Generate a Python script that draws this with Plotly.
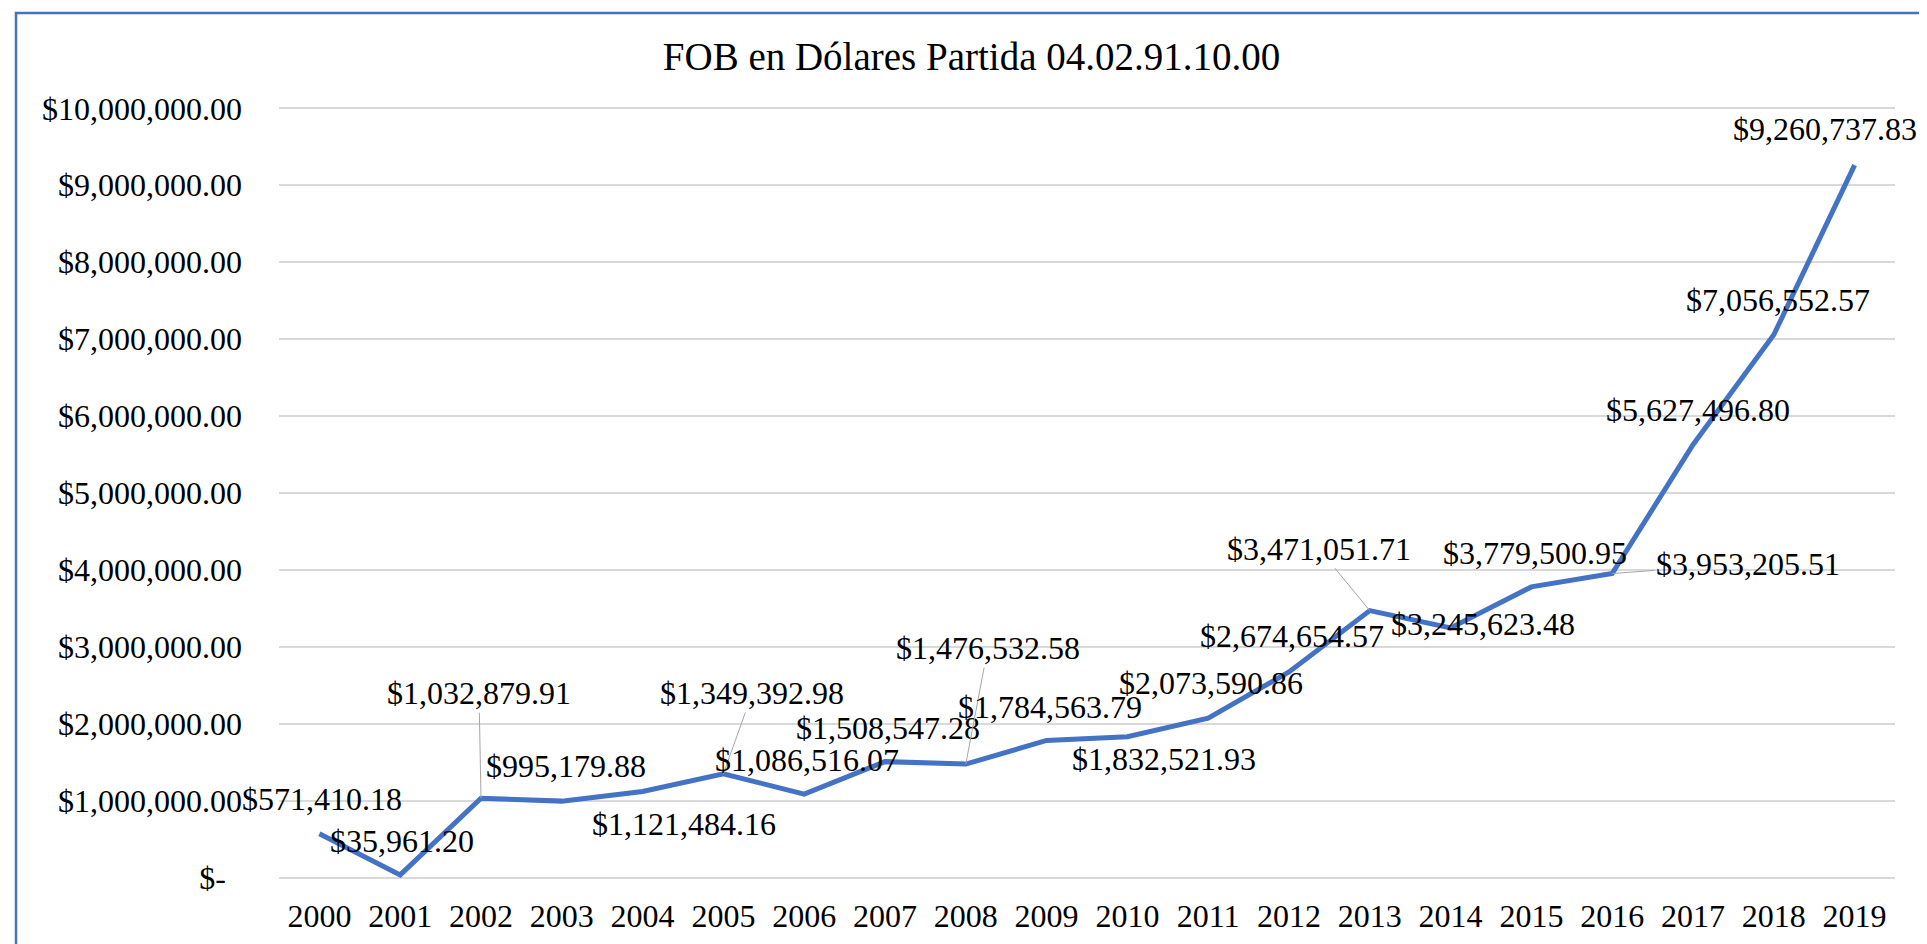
import plotly.graph_objects as go

years = [str(y) for y in range(2000, 2020)]
fob_usd = [571410.18, 35961.20, 1032879.91, 995179.88, 1121484.16, 1349392.98,
           1086516.07, 1508547.28, 1476532.58, 1784563.79, 1832521.93, 2073590.86,
           2674654.57, 3471051.71, 3245623.48, 3779500.95, 3953205.51, 5627496.80,
           7056552.57, 9260737.83]
y_ticks = [0, 1e6, 2e6, 3e6, 4e6, 5e6, 6e6, 7e6, 8e6, 9e6, 10e6]
title_text = "FOB en Dólares Partida 04.02.91.10.00"

# label placement (pixels): (dx, dy_up, leader)
label_pos = {
    "2000": (3, 35, False), "2001": (2, 34, False), "2002": (-2, 105, True),
    "2003": (4, 35, False), "2004": (41, -33, False), "2005": (29, 81, True),
    "2006": (3, 34, False), "2007": (3, 34, False), "2008": (22, 116, True),
    "2009": (3, 33, False), "2010": (37, -22, False), "2011": (3, 35, False),
    "2012": (3, 36, False), "2013": (-51, 62, True), "2014": (32, 4, False),
    "2015": (4, 34, False), "2016": (136, 10, True), "2017": (5, 35, False),
    "2018": (4, 35, False), "2019": (-30, 36, False),
}

FONT = "Liberation Serif, Times New Roman, serif"
W, H = 1927, 944
ML, MR, MT, MB = 271, W - 1887, 98, 72
Y_PAD = 0.03e6

def money(v):
    return "$-\u00a0\u00a0" if v == 0 else f"${v:,.2f}"

fig = go.Figure()
fig.add_trace(go.Scatter(x=years, y=fob_usd, mode="lines",
                         line=dict(color="#4472C4", width=5), hoverinfo="skip"))

annotations = []
for i, (yr, v) in enumerate(zip(years, fob_usd)):
    dx, dy, leader = label_pos[yr]
    txt = f"${v:,.2f}"
    common = dict(x=i, y=v, xref="x", yref="y", text=txt,
                  font=dict(family=FONT, size=32, color="black"))
    if leader:
        annotations.append(dict(**common, showarrow=True, ax=dx, ay=-dy, arrowhead=0,
                                arrowwidth=1, arrowcolor="#A6A6A6", standoff=0))
    else:
        annotations.append(dict(**common, showarrow=False, xshift=dx, yshift=dy))

pw, ph = W - ML - MR, H - MT - MB
shapes = [dict(type="rect", xref="paper", yref="paper",
               x0=(8 - ML) / pw, x1=(1917 - ML) / pw,
               y0=-(MB + 30) / ph, y1=(H - MB - 5) / ph,
               line=dict(color="#4472C4", width=2.5), fillcolor="rgba(0,0,0,0)",
               layer="below")]

fig.update_layout(
    width=W, height=H,
    margin=dict(l=ML, r=MR, t=MT, b=MB),
    paper_bgcolor="white", plot_bgcolor="white",
    showlegend=False,
    title=dict(text=title_text, x=0.5, xref="container", xanchor="center",
               y=1 - 48 / H, yref="container", yanchor="middle",
               font=dict(family=FONT, size=39, color="black")),
    xaxis=dict(type="category", range=[-0.5, len(years) - 0.5], autorange=False,
               showgrid=False, showline=False, zeroline=False,
               ticks="", ticklabelstandoff=14,
               tickfont=dict(family=FONT, size=32, color="black")),
    yaxis=dict(range=[-Y_PAD, 10e6 + Y_PAD], autorange=False, tickvals=y_ticks,
               ticktext=[money(v) for v in y_ticks],
               showgrid=True, gridcolor="#D9D9D9", gridwidth=1.5, zeroline=False,
               showline=False, ticks="", ticklabelstandoff=36,
               tickfont=dict(family=FONT, size=32, color="black")),
    annotations=annotations,
    shapes=shapes,
)

fig.write_html("out.html")
